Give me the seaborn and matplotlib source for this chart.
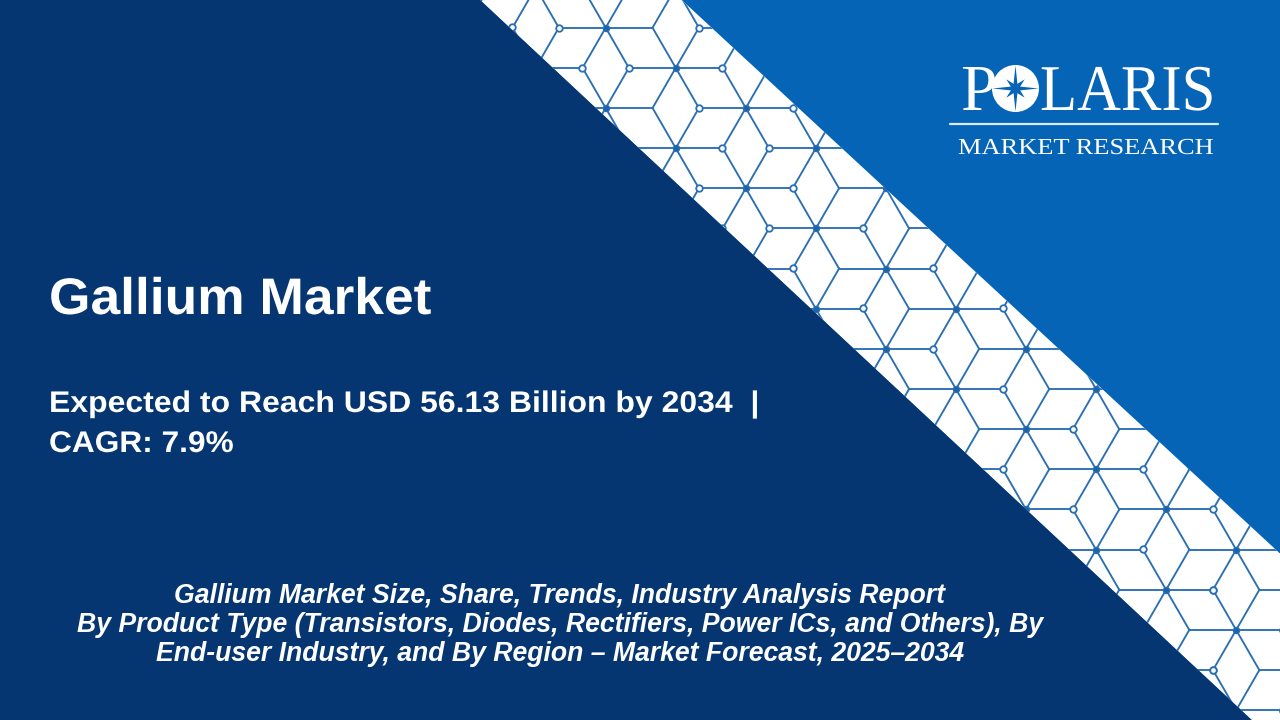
import numpy as np
import pandas as pd
import seaborn as sns
import matplotlib
matplotlib.use("Agg")
import matplotlib.pyplot as plt
from matplotlib.patches import Polygon, Circle
from matplotlib.patheffects import AbstractPathEffect
from matplotlib.transforms import Affine2D

sns.set_theme(style="white")
plt.rcParams['font.family'] = ['Liberation Sans', 'DejaVu Sans']

# ---- content ----
title = "Gallium Market"
headline = ["Expected to Reach USD 56.13 Billion by 2034  |", "CAGR: 7.9%"]
subtitle = ["Gallium Market Size, Share, Trends, Industry Analysis Report",
            "By Product Type (Transistors, Diodes, Rectifiers, Power ICs, and Others), By",
            "End-user Industry, and By Region \u2013 Market Forecast, 2025\u20132034"]
logo_left = "P"
logo_right = "LARIS"
logo_sub = "MARKET RESEARCH"

NAVY, BLUE, LINE = "#063672", "#0564B5", "#2B6FB3"

W, H = 1280, 720
fig = plt.figure(figsize=(12.8, 7.2), dpi=100)
ax = fig.add_axes([0, 0, 1, 1])
ax.set_xlim(0, W); ax.set_ylim(H, 0); ax.axis("off")


class StretchX(AbstractPathEffect):
    """Widen a text horizontally about a pixel column (stands in for letter spacing)."""
    def __init__(self, sx, x0):
        super().__init__()
        self.sx, self.x0 = sx, x0

    def draw_path(self, renderer, gc, tpath, affine, rgbFace=None):
        t = affine + Affine2D().translate(-self.x0, 0).scale(self.sx, 1).translate(self.x0, 0)
        renderer.draw_path(gc, tpath, t, rgbFace)


# backgrounds
ax.add_patch(Polygon([(0, 0), (W, 0), (W, H), (0, H)], fc=BLUE, ec="none", zorder=0))
band = Polygon([(480, 0), (681.7, 0), (1280, 553.5), (1280, 720), (1251.7, 720)], fc="white", ec="none", zorder=1)
ax.add_patch(band)
ax.add_patch(Polygon([(0, 0), (480, 0), (1251.7, 720), (0, 720)], fc=NAVY, ec="none", zorder=5))

# rhombille lattice
HX, HY = 70.05, 40.15     # hub lattice half steps
SP = 46.7                 # spoke length
X0, Y0 = 605.7, 27.7
plain_cols = [652.7, 838.9, 909.0, 979.0, 1049.0, 1119.0, 1189.0, 1259.0]
rows, hubs, nodes = [], [], {}
uid = 0
for k in range(-4, 12):
    for m in range(-8, 14):
        hx, hy = X0 + k * HX, Y0 + (k + 2 * m) * HY
        if not (440 < hx < 1330 and -60 < hy < 780):
            continue
        hubs.append((hx, hy))
        for a in range(0, 360, 60):
            ex, ey = hx + SP * np.cos(np.radians(a)), hy + SP * np.sin(np.radians(a))
            rows += [dict(u=uid, x=hx, y=hy, o=0), dict(u=uid, x=ex, y=ey, o=1)]
            nodes[(round(ex / 4), round(ey / 4))] = (ex, ey)
            uid += 1
edges = pd.DataFrame(rows)
sns.lineplot(data=edges, x="x", y="y", units="u", estimator=None, sort=False, color=LINE,
             linewidth=1.35, ax=ax, legend=False, zorder=2)
for l in ax.get_lines():
    l.set_clip_path(band)
hubs = pd.DataFrame(hubs, columns=["x", "y"])
nd = pd.DataFrame(list(nodes.values()), columns=["x", "y"])
nd = nd[[min(abs(v - c) for c in plain_cols) > 6 for v in nd.x]]
s1 = ax.scatter(hubs.x, hubs.y, s=20, fc="#1F62A8", ec=LINE, lw=0.9, zorder=3)
s2 = ax.scatter(nd.x, nd.y, s=22, fc="white", ec=LINE, lw=1.3, zorder=3)
s1.set_clip_path(band); s2.set_clip_path(band)
ax.set_xlabel(""); ax.set_ylabel("")
ax.set_xlim(0, W); ax.set_ylim(H, 0)

# main text
ax.text(49, 314, title, color="white", fontsize=37, fontweight="bold", zorder=6, va="baseline",
        path_effects=[StretchX(1.038, 49)])
ax.text(49, 412, headline[0], color="white", fontsize=21.5, fontweight="bold", zorder=6, va="baseline",
        path_effects=[StretchX(1.07, 49)])
ax.text(49, 452, headline[1], color="white", fontsize=21.5, fontweight="bold", zorder=6, va="baseline",
        path_effects=[StretchX(1.06, 49)])
for t, y in zip(subtitle, [603, 632, 661]):
    ax.text(560, y, t, color="white", fontsize=19.2, fontweight="bold", fontstyle="italic",
            ha="center", zorder=6, va="baseline")

# logo
SERIF = ["Liberation Serif", "DejaVu Serif"]
ax.text(960, 110, logo_left, color="white", fontsize=47, family=SERIF, zorder=6, va="baseline")
ax.text(1040, 110, logo_right, color="white", fontsize=47, family=SERIF, zorder=6, va="baseline",
        path_effects=[StretchX(0.93, 1040)])
cx, cy = 1015.5, 88.5
ax.add_patch(Circle((cx, cy), 23.5, fc="white", ec="none", zorder=6))
ang = np.radians(np.arange(0, 360, 22.5) - 90)
rad = np.array([23, 5, 13, 5] * 4, dtype=float)
ax.add_patch(Polygon(np.c_[cx + rad * np.cos(ang), cy + rad * np.sin(ang)], fc=BLUE, ec="none", zorder=7))
ax.plot([950, 1218], [124, 124], color="#DCE9F6", lw=1.6, zorder=6)
ax.text(958, 154, logo_sub, color="white", fontsize=16.5, family=SERIF, zorder=6, va="baseline",
        path_effects=[StretchX(1.153, 958)])

fig.savefig("out.png", dpi=100)
